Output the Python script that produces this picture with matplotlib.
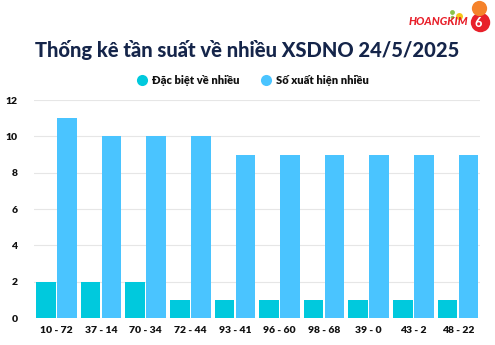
import numpy as np
import matplotlib.pyplot as plt
from matplotlib.lines import Line2D

plt.rcParams['font.family'] = ['Lato', 'DejaVu Sans']

# data
pairs = ['10 - 72', '37 - 14', '70 - 34', '72 - 44', '93 - 41',
         '96 - 60', '98 - 68', '39 - 0', '43 - 2', '48 - 22']
special = [2, 2, 2, 1, 1, 1, 1, 1, 1, 1]
frequent = [11, 10, 10, 10, 9, 9, 9, 9, 9, 9]

c_special = '#00C9DD'
c_freq = '#4AC4FF'
navy = '#15254A'

fig = plt.figure(figsize=(4.95, 3.45), dpi=100)
ax = fig.add_axes([0.069, 0.078, 0.901, 0.632])

x = np.arange(len(pairs))
w = 0.44
ax.bar(x - 0.235, special, width=w, color=c_special, zorder=3)
ax.bar(x + 0.235, frequent, width=w, color=c_freq, zorder=3)

ax.set_xlim(-0.5, len(pairs) - 0.5)
ax.set_ylim(0, 12)
ax.set_yticks(range(0, 13, 2))
ax.set_xticks(x)
ax.set_xticklabels(pairs)
ax.grid(axis='y', color='#e6e6e6', linewidth=0.8, zorder=0)
for s in ax.spines.values():
    s.set_visible(False)
ax.tick_params(length=0, labelsize=7.5, pad=6)
for lab in ax.get_xticklabels() + ax.get_yticklabels():
    lab.set_fontweight('heavy')
    lab.set_color('#111111')
ax.tick_params(axis='y', pad=12)

fig.text(0.5, 0.855, 'Thống kê tần suất về nhiều XSDNO 24/5/2025',
         ha='center', va='center', fontsize=14.5, fontweight='black', color=navy)


def dot(xf, yf, color, size):
    fig.add_artist(Line2D([xf], [yf], marker='o', markersize=size, color=color,
                          markeredgewidth=0, transform=fig.transFigure))


# legend
dot(0.286, 0.768, c_special, 8)
fig.text(0.307, 0.768, 'Đặc biệt về nhiều', ha='left', va='center',
         fontsize=8, fontweight='heavy', color='#111111')
dot(0.537, 0.768, c_freq, 8)
fig.text(0.558, 0.768, 'Số xuất hiện nhiều', ha='left', va='center',
         fontsize=8, fontweight='heavy', color='#111111')

# logo
dot(0.970, 0.935, '#E8202A', 14)
fig.text(0.945, 0.937, 'HOANGKIM', ha='right', va='center', fontsize=8,
         fontweight='black', fontstyle='italic', color='#E8202A')
fig.text(0.966, 0.933, '6', ha='center', va='center', fontsize=9,
         fontweight='black', color='white')
dot(0.968, 0.978, '#F5822A', 11)
dot(0.928, 0.955, '#F5C518', 5)
dot(0.914, 0.965, '#8BC34A', 3.5)
dot(0.914, 0.950, '#8BC34A', 2.5)

fig.savefig('out.png', dpi=100, facecolor='white')
